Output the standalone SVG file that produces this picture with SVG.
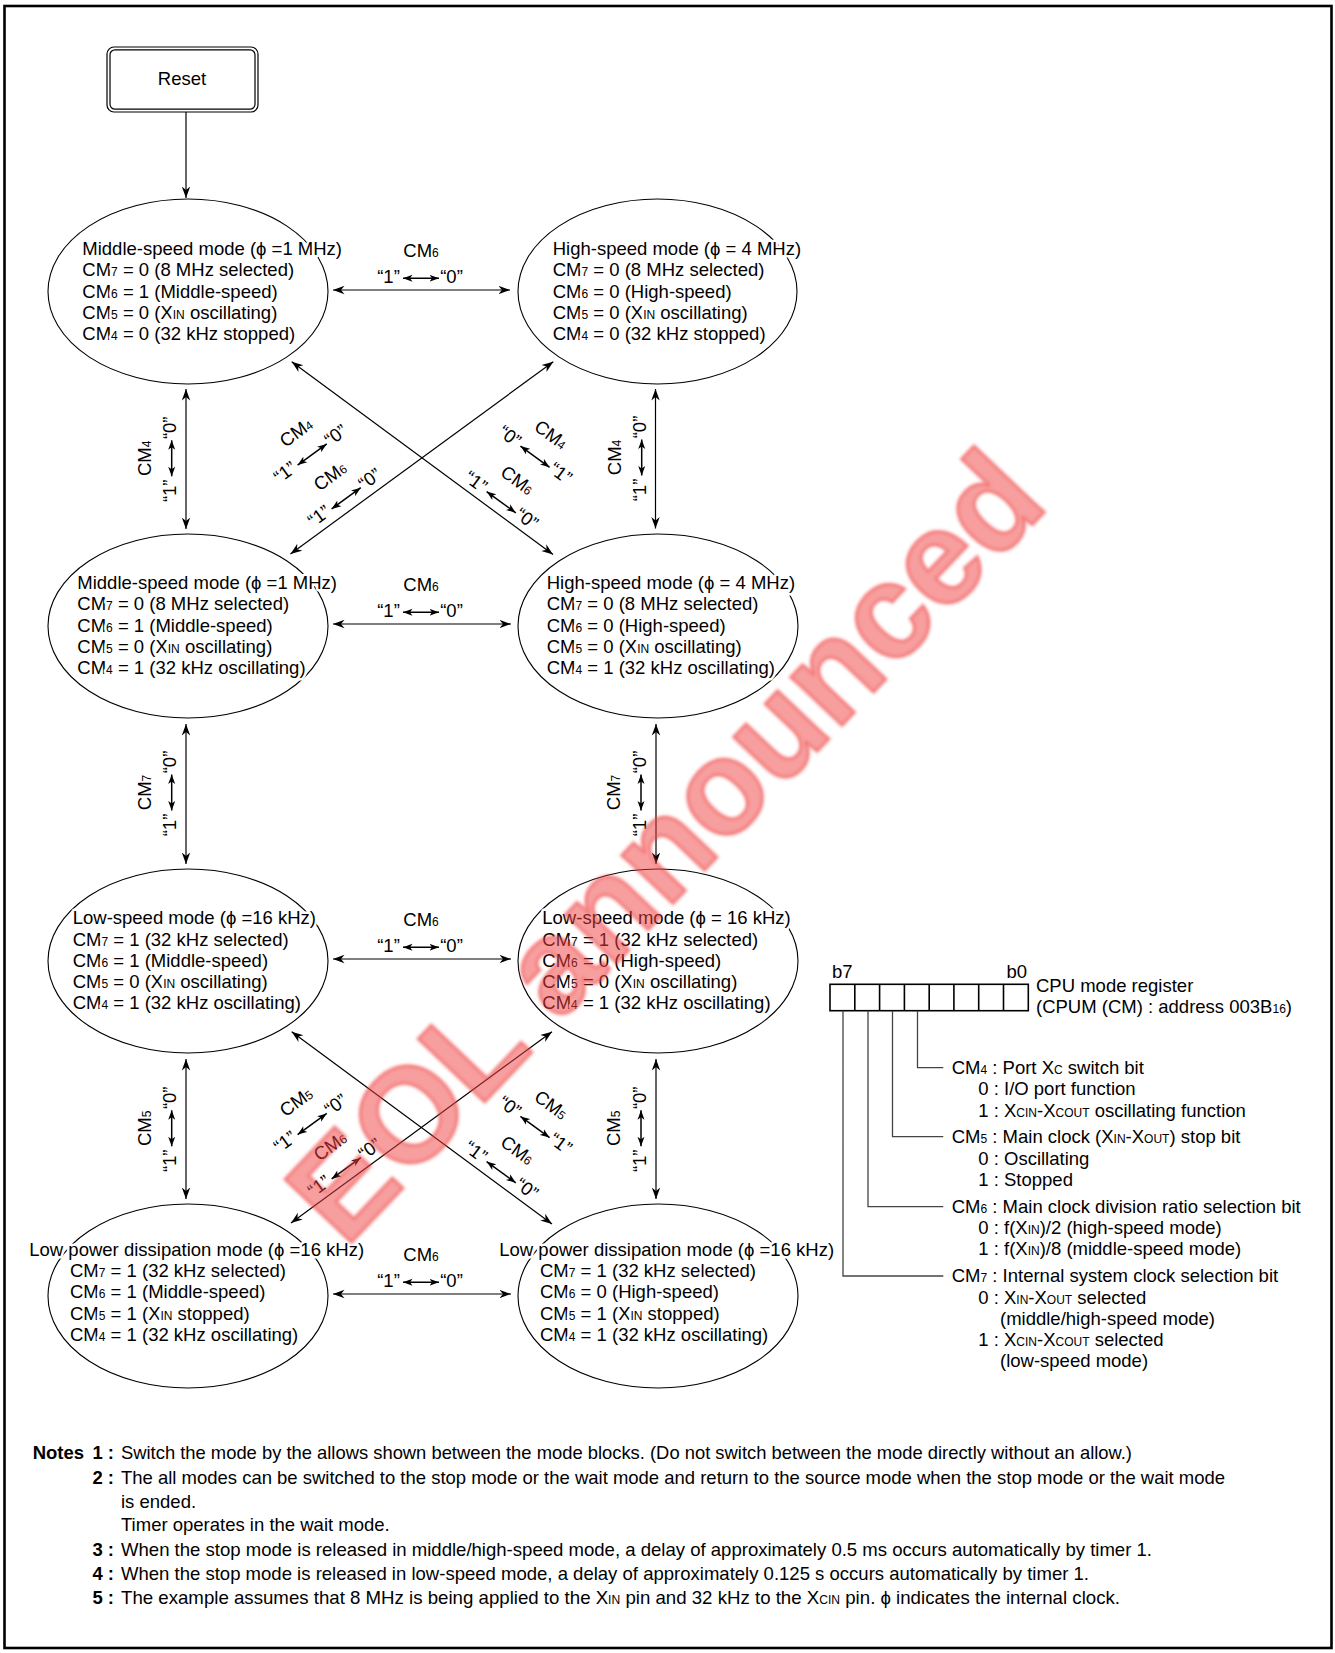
<svg xmlns="http://www.w3.org/2000/svg" width="1335" height="1653" viewBox="0 0 1335 1653">
<style>
text{font-family:"Liberation Sans",Arial,"DejaVu Sans",sans-serif;font-size:18.5px;fill:#000}
.s{font-size:12px}
.b{font-weight:bold}
.nt text{paint-order:stroke;stroke:#fff;stroke-width:5px;stroke-linejoin:round}
.ell{fill:none;stroke:#000;stroke-width:1.1}
.ln{stroke:#000;stroke-width:1.2;fill:none}
.la{stroke:#000;stroke-width:1.5;fill:none}
.reg{fill:none;stroke:#000;stroke-width:1.6}
.rl{fill:none;stroke:#444;stroke-width:1.3}
.wm{font-family:"Liberation Sans",Arial,sans-serif;font-weight:bold;font-size:134px;fill:#f03c3c;fill-opacity:0.5;stroke:#f03c3c;stroke-opacity:0.5;stroke-width:3px;paint-order:stroke}
</style>
<defs>
<marker id="ah" viewBox="0 0 12 10" refX="11.5" refY="5" markerWidth="12" markerHeight="10" markerUnits="userSpaceOnUse" orient="auto-start-reverse">
<path d="M0,0.8 L11.5,5 L0,9.2 L3.5,5 Z" fill="#000"/>
</marker>
<marker id="sh" viewBox="0 0 10 8" refX="9.5" refY="4" markerWidth="10" markerHeight="8" markerUnits="userSpaceOnUse" orient="auto-start-reverse">
<path d="M0,0.5 L9.5,4 L0,7.5 L2.5,4 Z" fill="#000"/>
</marker>
<filter id="soft" x="-5%" y="-5%" width="110%" height="110%"><feGaussianBlur stdDeviation="1.6"/></filter>
</defs>
<rect width="1335" height="1653" fill="#fff"/>
<rect x="4.5" y="6" width="1327" height="1642" fill="none" stroke="#000" stroke-width="2.6"/>

<g id="reset">
<rect x="107" y="47" width="151" height="65" rx="7" fill="#fff" stroke="#000" stroke-width="1.2"/>
<rect x="110" y="49.8" width="145" height="59.4" rx="5" fill="none" stroke="#000" stroke-width="1.2"/>
<text x="182" y="85" text-anchor="middle">Reset</text>
</g>

<g id="connectors">
<line class="ln" x1="186" y1="112" x2="186" y2="198" marker-end="url(#ah)"/>
<line class="ln" x1="333" y1="290" x2="510" y2="290" marker-start="url(#ah)" marker-end="url(#ah)"/>
<line class="ln" x1="333" y1="624" x2="511" y2="624" marker-start="url(#ah)" marker-end="url(#ah)"/>
<line class="ln" x1="333" y1="959" x2="511" y2="959" marker-start="url(#ah)" marker-end="url(#ah)"/>
<line class="ln" x1="333" y1="1294" x2="511" y2="1294" marker-start="url(#ah)" marker-end="url(#ah)"/>
<line class="ln" x1="186" y1="389" x2="186" y2="529" marker-start="url(#ah)" marker-end="url(#ah)"/>
<line class="ln" x1="655.5" y1="389" x2="655.5" y2="528.5" marker-start="url(#ah)" marker-end="url(#ah)"/>
<line class="ln" x1="186" y1="724" x2="186" y2="864" marker-start="url(#ah)" marker-end="url(#ah)"/>
<line class="ln" x1="656" y1="724" x2="656" y2="864" marker-start="url(#ah)" marker-end="url(#ah)"/>
<line class="ln" x1="186" y1="1059" x2="186" y2="1199" marker-start="url(#ah)" marker-end="url(#ah)"/>
<line class="ln" x1="656" y1="1059" x2="656" y2="1199" marker-start="url(#ah)" marker-end="url(#ah)"/>
<line class="ln" x1="291.7" y1="361.7" x2="553" y2="554.5" marker-start="url(#ah)" marker-end="url(#ah)"/>
<line class="ln" x1="290.5" y1="554" x2="553.3" y2="361.7" marker-start="url(#ah)" marker-end="url(#ah)"/>
<line class="ln" x1="291.7" y1="1031.7" x2="552" y2="1224" marker-start="url(#ah)" marker-end="url(#ah)"/>
<line class="ln" x1="291" y1="1223" x2="552" y2="1031.7" marker-start="url(#ah)" marker-end="url(#ah)"/>

<!-- horizontal CM6 labels -->
<g transform="translate(421,278.3)"><text y="-21" text-anchor="middle">CM<tspan class="s">6</tspan></text><text x="-32.5" y="4.5" text-anchor="middle">“1”</text><text x="30.5" y="4.5" text-anchor="middle">“0”</text><line class="la" x1="-18" y1="0" x2="18" y2="0" marker-start="url(#sh)" marker-end="url(#sh)"/></g>
<g transform="translate(421,612.3)"><text y="-21" text-anchor="middle">CM<tspan class="s">6</tspan></text><text x="-32.5" y="4.5" text-anchor="middle">“1”</text><text x="30.5" y="4.5" text-anchor="middle">“0”</text><line class="la" x1="-18" y1="0" x2="18" y2="0" marker-start="url(#sh)" marker-end="url(#sh)"/></g>
<g transform="translate(421,947.3)"><text y="-21" text-anchor="middle">CM<tspan class="s">6</tspan></text><text x="-32.5" y="4.5" text-anchor="middle">“1”</text><text x="30.5" y="4.5" text-anchor="middle">“0”</text><line class="la" x1="-18" y1="0" x2="18" y2="0" marker-start="url(#sh)" marker-end="url(#sh)"/></g>
<g transform="translate(421,1282.3)"><text y="-21" text-anchor="middle">CM<tspan class="s">6</tspan></text><text x="-32.5" y="4.5" text-anchor="middle">“1”</text><text x="30.5" y="4.5" text-anchor="middle">“0”</text><line class="la" x1="-18" y1="0" x2="18" y2="0" marker-start="url(#sh)" marker-end="url(#sh)"/></g>

<!-- vertical labels -->
<g transform="translate(171.7,458.3) rotate(-90)"><text y="-21" text-anchor="middle">CM<tspan class="s">4</tspan></text><text x="-32.5" y="4.5" text-anchor="middle">“1”</text><text x="30.5" y="4.5" text-anchor="middle">“0”</text><line class="la" x1="-18" y1="0" x2="18" y2="0" marker-start="url(#sh)" marker-end="url(#sh)"/></g>
<g transform="translate(641.7,457.5) rotate(-90)"><text y="-21" text-anchor="middle">CM<tspan class="s">4</tspan></text><text x="-32.5" y="4.5" text-anchor="middle">“1”</text><text x="30.5" y="4.5" text-anchor="middle">“0”</text><line class="la" x1="-18" y1="0" x2="18" y2="0" marker-start="url(#sh)" marker-end="url(#sh)"/></g>
<g transform="translate(171.7,792.5) rotate(-90)"><text y="-21" text-anchor="middle">CM<tspan class="s">7</tspan></text><text x="-32.5" y="4.5" text-anchor="middle">“1”</text><text x="30.5" y="4.5" text-anchor="middle">“0”</text><line class="la" x1="-18" y1="0" x2="18" y2="0" marker-start="url(#sh)" marker-end="url(#sh)"/></g>
<g transform="translate(641,792.5) rotate(-90)"><text y="-21" text-anchor="middle">CM<tspan class="s">7</tspan></text><text x="-32.5" y="4.5" text-anchor="middle">“1”</text><text x="30.5" y="4.5" text-anchor="middle">“0”</text><line class="la" x1="-18" y1="0" x2="18" y2="0" marker-start="url(#sh)" marker-end="url(#sh)"/></g>
<g transform="translate(171.7,1128.3) rotate(-90)"><text y="-21" text-anchor="middle">CM<tspan class="s">5</tspan></text><text x="-32.5" y="4.5" text-anchor="middle">“1”</text><text x="30.5" y="4.5" text-anchor="middle">“0”</text><line class="la" x1="-18" y1="0" x2="18" y2="0" marker-start="url(#sh)" marker-end="url(#sh)"/></g>
<g transform="translate(641,1128.3) rotate(-90)"><text y="-21" text-anchor="middle">CM<tspan class="s">5</tspan></text><text x="-32.5" y="4.5" text-anchor="middle">“1”</text><text x="30.5" y="4.5" text-anchor="middle">“0”</text><line class="la" x1="-18" y1="0" x2="18" y2="0" marker-start="url(#sh)" marker-end="url(#sh)"/></g>

<!-- diagonal labels rows 1-2 -->
<g transform="translate(312.2,454.5) rotate(-36)"><text y="-21" text-anchor="middle">CM<tspan class="s">4</tspan></text><text x="-32.5" y="4.5" text-anchor="middle">“1”</text><text x="30.5" y="4.5" text-anchor="middle">“0”</text><line class="la" x1="-18" y1="0" x2="18" y2="0" marker-start="url(#sh)" marker-end="url(#sh)"/></g>
<g transform="translate(346.2,498.3) rotate(-36)"><text y="-21" text-anchor="middle">CM<tspan class="s">6</tspan></text><text x="-32.5" y="4.5" text-anchor="middle">“1”</text><text x="30.5" y="4.5" text-anchor="middle">“0”</text><line class="la" x1="-18" y1="0" x2="18" y2="0" marker-start="url(#sh)" marker-end="url(#sh)"/></g>
<g transform="translate(535,456.7) rotate(36)"><text y="-21" text-anchor="middle">CM<tspan class="s">4</tspan></text><text x="-32.5" y="4.5" text-anchor="middle">“0”</text><text x="30.5" y="4.5" text-anchor="middle">“1”</text><line class="la" x1="-18" y1="0" x2="18" y2="0" marker-start="url(#sh)" marker-end="url(#sh)"/></g>
<g transform="translate(501.2,502.2) rotate(36)"><text y="-21" text-anchor="middle">CM<tspan class="s">6</tspan></text><text x="-32.5" y="4.5" text-anchor="middle">“1”</text><text x="30.5" y="4.5" text-anchor="middle">“0”</text><line class="la" x1="-18" y1="0" x2="18" y2="0" marker-start="url(#sh)" marker-end="url(#sh)"/></g>

<!-- diagonal labels rows 3-4 -->
<g transform="translate(312.2,1124) rotate(-36)"><text y="-21" text-anchor="middle">CM<tspan class="s">5</tspan></text><text x="-32.5" y="4.5" text-anchor="middle">“1”</text><text x="30.5" y="4.5" text-anchor="middle">“0”</text><line class="la" x1="-18" y1="0" x2="18" y2="0" marker-start="url(#sh)" marker-end="url(#sh)"/></g>
<g transform="translate(346.2,1168.3) rotate(-36)"><text y="-21" text-anchor="middle">CM<tspan class="s">6</tspan></text><text x="-32.5" y="4.5" text-anchor="middle">“1”</text><text x="30.5" y="4.5" text-anchor="middle">“0”</text><line class="la" x1="-18" y1="0" x2="18" y2="0" marker-start="url(#sh)" marker-end="url(#sh)"/></g>
<g transform="translate(535,1127) rotate(36)"><text y="-21" text-anchor="middle">CM<tspan class="s">5</tspan></text><text x="-32.5" y="4.5" text-anchor="middle">“0”</text><text x="30.5" y="4.5" text-anchor="middle">“1”</text><line class="la" x1="-18" y1="0" x2="18" y2="0" marker-start="url(#sh)" marker-end="url(#sh)"/></g>
<g transform="translate(501.2,1172.2) rotate(36)"><text y="-21" text-anchor="middle">CM<tspan class="s">6</tspan></text><text x="-32.5" y="4.5" text-anchor="middle">“1”</text><text x="30.5" y="4.5" text-anchor="middle">“0”</text><line class="la" x1="-18" y1="0" x2="18" y2="0" marker-start="url(#sh)" marker-end="url(#sh)"/></g>
</g>

<g id="n1" class="nt">
<ellipse class="ell" cx="188" cy="291.5" rx="140" ry="92.5"/>
<text x="82.3" y="255">Middle-speed mode (ϕ =1 MHz)</text>
<text x="82.3" y="276.3">CM<tspan class="s">7</tspan> = 0 (8 MHz selected)</text>
<text x="82.3" y="297.5">CM<tspan class="s">6</tspan> = 1 (Middle-speed)</text>
<text x="82.3" y="318.8">CM<tspan class="s">5</tspan> = 0 (X<tspan class="s">IN</tspan> oscillating)</text>
<text x="82.3" y="340">CM<tspan class="s">4</tspan> = 0 (32 kHz stopped)</text>
</g>
<g id="n2" class="nt">
<ellipse class="ell" cx="657.5" cy="291.5" rx="139.5" ry="92.5"/>
<text x="552.7" y="255">High-speed mode (ϕ = 4 MHz)</text>
<text x="552.7" y="276.3">CM<tspan class="s">7</tspan> = 0 (8 MHz selected)</text>
<text x="552.7" y="297.5">CM<tspan class="s">6</tspan> = 0 (High-speed)</text>
<text x="552.7" y="318.8">CM<tspan class="s">5</tspan> = 0 (X<tspan class="s">IN</tspan> oscillating)</text>
<text x="552.7" y="340">CM<tspan class="s">4</tspan> = 0 (32 kHz stopped)</text>
</g>
<g id="n3" class="nt">
<ellipse class="ell" cx="188" cy="626" rx="140" ry="92"/>
<text x="77.3" y="589">Middle-speed mode (ϕ =1 MHz)</text>
<text x="77.3" y="610.3">CM<tspan class="s">7</tspan> = 0 (8 MHz selected)</text>
<text x="77.3" y="631.5">CM<tspan class="s">6</tspan> = 1 (Middle-speed)</text>
<text x="77.3" y="652.8">CM<tspan class="s">5</tspan> = 0 (X<tspan class="s">IN</tspan> oscillating)</text>
<text x="77.3" y="674">CM<tspan class="s">4</tspan> = 1 (32 kHz oscillating)</text>
</g>
<g id="n4" class="nt">
<ellipse class="ell" cx="658" cy="626" rx="140" ry="92"/>
<text x="546.7" y="589">High-speed mode (ϕ = 4 MHz)</text>
<text x="546.7" y="610.3">CM<tspan class="s">7</tspan> = 0 (8 MHz selected)</text>
<text x="546.7" y="631.5">CM<tspan class="s">6</tspan> = 0 (High-speed)</text>
<text x="546.7" y="652.8">CM<tspan class="s">5</tspan> = 0 (X<tspan class="s">IN</tspan> oscillating)</text>
<text x="546.7" y="674">CM<tspan class="s">4</tspan> = 1 (32 kHz oscillating)</text>
</g>
<g id="n5" class="nt">
<ellipse class="ell" cx="188" cy="961" rx="140" ry="92"/>
<text x="72.7" y="924.3">Low-speed mode (ϕ =16 kHz)</text>
<text x="72.7" y="945.6">CM<tspan class="s">7</tspan> = 1 (32 kHz selected)</text>
<text x="72.7" y="966.8">CM<tspan class="s">6</tspan> = 1 (Middle-speed)</text>
<text x="72.7" y="988.1">CM<tspan class="s">5</tspan> = 0 (X<tspan class="s">IN</tspan> oscillating)</text>
<text x="72.7" y="1009.3">CM<tspan class="s">4</tspan> = 1 (32 kHz oscillating)</text>
</g>
<g id="n6" class="nt">
<ellipse class="ell" cx="658" cy="961" rx="140" ry="92"/>
<text x="542.3" y="924.3">Low-speed mode (ϕ = 16 kHz)</text>
<text x="542.3" y="945.6">CM<tspan class="s">7</tspan> = 1 (32 kHz selected)</text>
<text x="542.3" y="966.8">CM<tspan class="s">6</tspan> = 0 (High-speed)</text>
<text x="542.3" y="988.1">CM<tspan class="s">5</tspan> = 0 (X<tspan class="s">IN</tspan> oscillating)</text>
<text x="542.3" y="1009.3">CM<tspan class="s">4</tspan> = 1 (32 kHz oscillating)</text>
</g>
<g id="n7" class="nt">
<ellipse class="ell" cx="188" cy="1296" rx="140" ry="92"/>
<text x="29.3" y="1255.7">Low power dissipation mode (ϕ =16 kHz)</text>
<text x="70" y="1277">CM<tspan class="s">7</tspan> = 1 (32 kHz selected)</text>
<text x="70" y="1298.2">CM<tspan class="s">6</tspan> = 1 (Middle-speed)</text>
<text x="70" y="1319.5">CM<tspan class="s">5</tspan> = 1 (X<tspan class="s">IN</tspan> stopped)</text>
<text x="70" y="1340.7">CM<tspan class="s">4</tspan> = 1 (32 kHz oscillating)</text>
</g>
<g id="n8" class="nt">
<ellipse class="ell" cx="658" cy="1296" rx="140" ry="92"/>
<text x="499.3" y="1255.7">Low power dissipation mode (ϕ =16 kHz)</text>
<text x="540" y="1277">CM<tspan class="s">7</tspan> = 1 (32 kHz selected)</text>
<text x="540" y="1298.2">CM<tspan class="s">6</tspan> = 0 (High-speed)</text>
<text x="540" y="1319.5">CM<tspan class="s">5</tspan> = 1 (X<tspan class="s">IN</tspan> stopped)</text>
<text x="540" y="1340.7">CM<tspan class="s">4</tspan> = 1 (32 kHz oscillating)</text>
</g>

<g id="cpu-mode-register">
<text x="832" y="978">b7</text>
<text x="1027" y="978" text-anchor="end">b0</text>
<rect class="reg" x="830" y="984.3" width="198.3" height="26.4"/>
<path class="reg" d="M854.8,984.3V1010.7M879.6,984.3V1010.7M904.4,984.3V1010.7M929.2,984.3V1010.7M953.9,984.3V1010.7M978.7,984.3V1010.7M1003.5,984.3V1010.7"/>
<text x="1036" y="992.3">CPU mode register</text>
<text x="1036" y="1013.3">(CPUM (CM) : address 003B<tspan class="s">16</tspan>)</text>
<path class="rl" d="M917.5,1010.7V1067.7H943.3M892.5,1010.7V1136.7H943.3M868,1010.7V1206.7H943.3M843,1010.7V1276H943.3"/>
<text x="951.7" y="1074">CM<tspan class="s">4</tspan> : Port X<tspan class="s">C</tspan> switch bit</text>
<text x="978.3" y="1095.3">0 : I/O port function</text>
<text x="978.3" y="1116.8">1 : X<tspan class="s">CIN</tspan>-X<tspan class="s">COUT</tspan> oscillating function</text>
<text x="951.7" y="1142.8">CM<tspan class="s">5</tspan> : Main clock (X<tspan class="s">IN</tspan>-X<tspan class="s">OUT</tspan>) stop bit</text>
<text x="978.3" y="1165">0 : Oscillating</text>
<text x="978.3" y="1185.8">1 : Stopped</text>
<text x="951.7" y="1212.8">CM<tspan class="s">6</tspan> : Main clock division ratio selection bit</text>
<text x="978.3" y="1234">0 : f(X<tspan class="s">IN</tspan>)/2 (high-speed mode)</text>
<text x="978.3" y="1255">1 : f(X<tspan class="s">IN</tspan>)/8 (middle-speed mode)</text>
<text x="951.7" y="1282.3">CM<tspan class="s">7</tspan> : Internal system clock selection bit</text>
<text x="978.3" y="1303.5">0 : X<tspan class="s">IN</tspan>-X<tspan class="s">OUT</tspan> selected</text>
<text x="1000" y="1324.5">(middle/high-speed mode)</text>
<text x="978.3" y="1345.8">1 : X<tspan class="s">CIN</tspan>-X<tspan class="s">COUT</tspan> selected</text>
<text x="1000" y="1367">(low-speed mode)</text>
</g>

<g id="notes">
<text class="b" x="32.7" y="1459">Notes</text>
<text class="b" x="114" y="1459" text-anchor="end">1 :</text>
<text class="b" x="114" y="1483.5" text-anchor="end">2 :</text>
<text class="b" x="114" y="1556" text-anchor="end">3 :</text>
<text class="b" x="114" y="1579.5" text-anchor="end">4 :</text>
<text class="b" x="114" y="1603.5" text-anchor="end">5 :</text>
<text x="121" y="1459" textLength="1011" lengthAdjust="spacingAndGlyphs">Switch the mode by the allows shown between the mode blocks. (Do not switch between the mode directly without an allow.)</text>
<text x="121" y="1483.5" textLength="1104" lengthAdjust="spacingAndGlyphs">The all modes can be switched to the stop mode or the wait mode and return to the source mode when the stop mode or the wait mode</text>
<text x="121" y="1507.5">is ended.</text>
<text x="121" y="1531">Timer operates in the wait mode.</text>
<text x="121" y="1556" textLength="1031" lengthAdjust="spacingAndGlyphs">When the stop mode is released in middle/high-speed mode, a delay of approximately 0.5 ms occurs automatically by timer 1.</text>
<text x="121" y="1579.5" textLength="968" lengthAdjust="spacingAndGlyphs">When the stop mode is released in low-speed mode, a delay of approximately 0.125 s occurs automatically by timer 1.</text>
<text x="121" y="1603.5" textLength="999" lengthAdjust="spacingAndGlyphs">The example assumes that 8 MHz is being applied to the  X<tspan class="s">IN</tspan> pin and 32 kHz to the X<tspan class="s">CIN</tspan> pin. ϕ indicates the internal clock.</text>
</g>

<text class="wm" filter="url(#soft)" transform="translate(664,845) rotate(-46.5)" x="0" y="47" text-anchor="middle">EOL announced</text>
</svg>
